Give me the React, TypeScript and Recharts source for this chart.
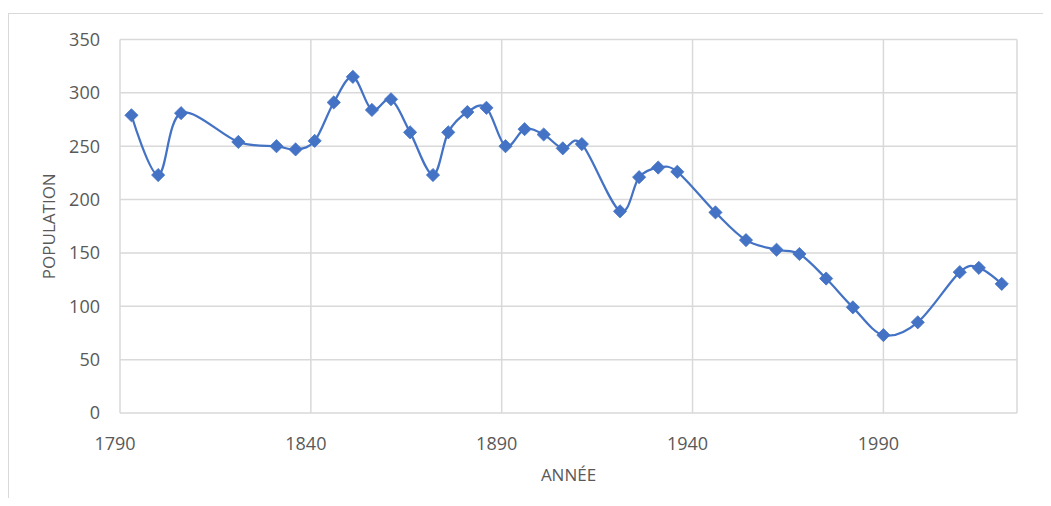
import React from 'react';
import { LineChart, Line, XAxis, YAxis, CartesianGrid } from 'recharts';

const years = [1793, 1800, 1806, 1821, 1831, 1836, 1841, 1846, 1851, 1856, 1861, 1866, 1872, 1876, 1881, 1886, 1891, 1896, 1901, 1906, 1911, 1921, 1926, 1931, 1936, 1946, 1954, 1962, 1968, 1975, 1982, 1990, 1999, 2010, 2015, 2021];
const population = [279, 223, 281, 254, 250, 247, 255, 291, 315, 284, 294, 263, 223, 263, 282, 286, 250, 266, 261, 248, 252, 189, 221, 230, 226, 188, 162, 153, 149, 126, 99, 73, 85, 132, 136, 121];
const xTicks = [1790, 1840, 1890, 1940, 1990];
const yTicks = [0, 50, 100, 150, 200, 250, 300, 350];

const data = years.map((y, i) => ({ year: y, pop: population[i] }));

const BLUE = '#4472C4';
const GRID = '#d9d9d9';
const TEXT = '#595959';
const FONT = '"Open Sans", sans-serif';

// Catmull-Rom style smoothing similar to Excel's smoothed line
function excelCurve(context: any) {
  const k = 1 / 6;
  let x0 = NaN, x1 = NaN, x2 = NaN, y0 = NaN, y1 = NaN, y2 = NaN, p = 0;
  const seg = (x: number, y: number) => {
    context.bezierCurveTo(
      x1 + k * (x2 - x0), y1 + k * (y2 - y0),
      x2 + k * (x1 - x), y2 + k * (y1 - y),
      x2, y2
    );
  };
  return {
    areaStart() {},
    areaEnd() {},
    lineStart() { x0 = x1 = x2 = y0 = y1 = y2 = NaN; p = 0; },
    lineEnd() {
      if (p === 2) context.lineTo(x2, y2);
      else if (p === 3) seg(x1, y1);
    },
    point(x: number, y: number) {
      x = +x; y = +y;
      switch (p) {
        case 0: p = 1; context.moveTo(x, y); break;
        case 1: p = 2; x1 = x; y1 = y; break;
        case 2: p = 3; seg(x, y); break;
        default: seg(x, y); break;
      }
      x0 = x1; x1 = x2; x2 = x;
      y0 = y1; y1 = y2; y2 = y;
    },
  };
}

const Diamond = (props: any) => {
  const { cx, cy, index } = props;
  if (cx == null || cy == null) return <g key={`d${index}`} />;
  const r = 6.6;
  return (
    <polygon
      key={`d${index}`}
      points={`${cx},${cy - r} ${cx + r},${cy} ${cx},${cy + r} ${cx - r},${cy}`}
      fill={BLUE}
      stroke={BLUE}
      strokeWidth={0.8}
    />
  );
};

export default function App() {
  return (
    <div style={{ position: 'relative', width: 1035, height: 490 }}>
      <div
        style={{
          position: 'absolute',
          left: 0,
          top: 5,
          width: 1043,
          height: 493,
          boxSizing: 'border-box',
          borderTop: `1.5px solid ${GRID}`,
          borderLeft: `1.5px solid ${GRID}`,
        }}
      />
      <LineChart
        width={1035}
        height={490}
        data={data}
        margin={{ top: 31.5, right: 26, bottom: 0, left: 0 }}
        style={{ position: 'absolute', left: 0, top: 0 }}
      >
        <CartesianGrid stroke={GRID} strokeWidth={1.5} />
        <XAxis
          dataKey="year"
          type="number"
          domain={[1790, 2025]}
          ticks={xTicks}
          interval={0}
          height={85}
          axisLine={false}
          tickLine={false}
          tickSize={0}
          tickMargin={24}
          tick={{ fill: TEXT, fontSize: 18, fontFamily: FONT, dx: -5 }}
          label={{
            content: (p: any) => {
              const vb = p.viewBox || {};
              return (
                <text
                  x={vb.x + vb.width / 2}
                  y={473}
                  textAnchor="middle"
                  fill={TEXT}
                  fontSize={17}
                  fontFamily={FONT}
                >
                  ANNÉE
                </text>
              );
            },
          }}
        />
        <YAxis
          type="number"
          domain={[0, 350]}
          ticks={yTicks}
          interval={0}
          width={112}
          axisLine={false}
          tickLine={false}
          tickSize={0}
          tickMargin={20}
          tick={{ fill: TEXT, fontSize: 18, fontFamily: FONT }}
          label={{
            content: (p: any) => {
              const vb = p.viewBox || {};
              const cy = vb.y + vb.height / 2;
              return (
                <text
                  x={40.5}
                  y={cy}
                  transform={`rotate(-90, 40.5, ${cy})`}
                  textAnchor="middle"
                  dominantBaseline="central"
                  fill={TEXT}
                  fontSize={17}
                  fontFamily={FONT}
                >
                  POPULATION
                </text>
              );
            },
          }}
        />
        <Line
          dataKey="pop"
          type={excelCurve as any}
          stroke={BLUE}
          strokeWidth={2.25}
          dot={Diamond}
          activeDot={false}
          isAnimationActive={false}
        />
      </LineChart>
    </div>
  );
}
